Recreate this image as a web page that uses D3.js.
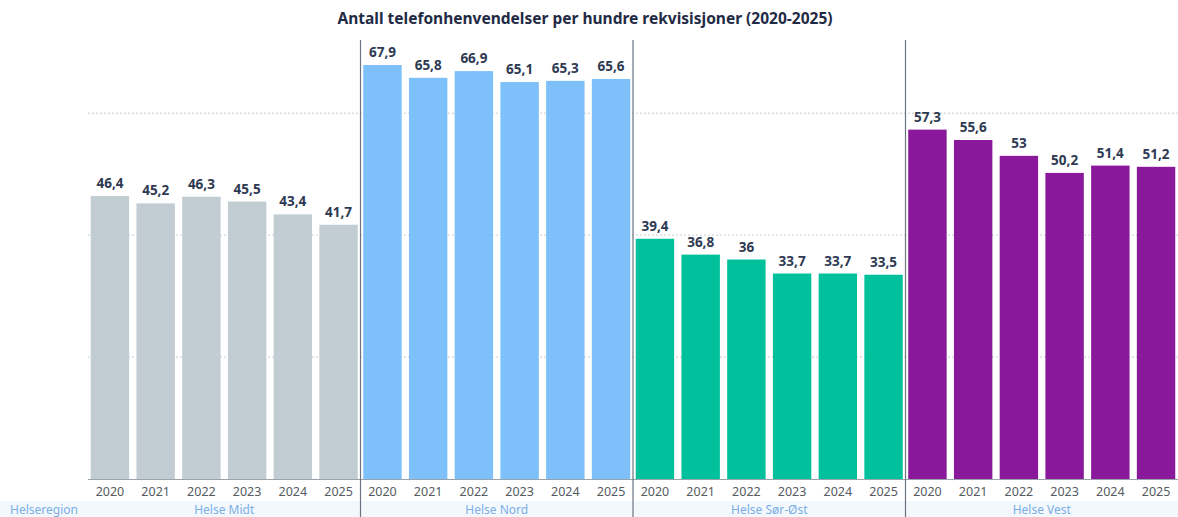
<!DOCTYPE html>
<html lang="no">
<head>
    <meta charset="UTF-8">
    <title>Antall telefonhenvendelser per hundre rekvisisjoner</title>
    <script src="https://d3js.org/d3.v7.min.js"></script>
    <style>
        body {
            margin: 0;
            padding: 0;
            background-color: #fff;
            font-family: "Noto Sans", "Open Sans", sans-serif;
        }
        .grid line {
            stroke: #c9cdd2;
            stroke-dasharray: 2, 2;
        }
        .value {
            font-weight: 700;
            font-size: 13.5px;
            fill: #2e3a52;
        }
        .year {
            font-size: 12.5px;
            fill: #555b63;
        }
        .region {
            font-size: 12px;
            fill: #7aaee6;
        }
    </style>
</head>
<body>
    <div id="chart"></div>

    <script>
        const regions = ["Helse Midt", "Helse Nord", "Helse Sør-Øst", "Helse Vest"];
        const years = ["2020", "2021", "2022", "2023", "2024", "2025"];
        const helseMidt = [46.4, 45.2, 46.3, 45.5, 43.4, 41.7];
        const helseNord = [67.9, 65.8, 66.9, 65.1, 65.3, 65.6];
        const helseSorOst = [39.4, 36.8, 36, 33.7, 33.7, 33.5];
        const helseVest = [57.3, 55.6, 53, 50.2, 51.4, 51.2];
        const gridValues = [20, 40, 60];
        const colors = ["#c1cdd3", "#7dc0fa", "#00c19c", "#89189b"];

        const seriesByRegion = [helseMidt, helseNord, helseSorOst, helseVest];
        const data = [];
        regions.forEach((r, i) => {
            years.forEach((yr, j) => {
                data.push({region: r, year: yr, value: seriesByRegion[i][j], color: colors[i]});
            });
        });

        const W = 1178, H = 517;
        const plot = {left: 88, right: 1178, top: 40, bottom: 479};

        const svg = d3.select("#chart").append("svg")
            .attr("width", W)
            .attr("height", H);

        const x0 = d3.scaleBand()
            .domain(regions)
            .range([plot.left, plot.right])
            .padding(0);

        const x1 = d3.scaleBand()
            .domain(years)
            .range([0, x0.bandwidth()])
            .paddingInner(0.16)
            .paddingOuter(0.06);

        const y = d3.scaleLinear()
            .domain([0, 72])
            .range([plot.bottom, plot.top]);

        // bottom strip for region labels
        svg.append("rect")
            .attr("x", 0)
            .attr("y", 501)
            .attr("width", W)
            .attr("height", H - 501)
            .attr("fill", "#f3f8fd");

        // dotted gridlines
        svg.append("g")
            .attr("class", "grid")
            .selectAll("line")
            .data(gridValues)
            .join("line")
            .attr("x1", plot.left)
            .attr("x2", plot.right)
            .attr("y1", d => y(d))
            .attr("y2", d => y(d));

        // bars
        svg.append("g")
            .selectAll("rect")
            .data(data)
            .join("rect")
            .attr("x", d => x0(d.region) + x1(d.year))
            .attr("y", d => y(d.value))
            .attr("width", x1.bandwidth())
            .attr("height", d => y(0) - y(d.value))
            .attr("fill", d => d.color);

        // value labels
        svg.append("g")
            .selectAll("text")
            .data(data)
            .join("text")
            .attr("class", "value")
            .attr("text-anchor", "middle")
            .attr("x", d => x0(d.region) + x1(d.year) + x1.bandwidth() / 2)
            .attr("y", d => y(d.value) - 8)
            .text(d => String(d.value).replace(".", ","));

        // baseline
        svg.append("line")
            .attr("x1", plot.left)
            .attr("x2", plot.right)
            .attr("y1", y(0) + 0.5)
            .attr("y2", y(0) + 0.5)
            .attr("stroke", "#9aa3ab")
            .attr("stroke-width", 1);

        // year labels
        svg.append("g")
            .selectAll("text")
            .data(data)
            .join("text")
            .attr("class", "year")
            .attr("text-anchor", "middle")
            .attr("x", d => x0(d.region) + x1(d.year) + x1.bandwidth() / 2)
            .attr("y", 496)
            .text(d => d.year);

        // region labels
        svg.append("g")
            .selectAll("text")
            .data(regions)
            .join("text")
            .attr("class", "region")
            .attr("text-anchor", "middle")
            .attr("x", d => x0(d) + x0.bandwidth() / 2)
            .attr("y", 514)
            .text(d => d);

        svg.append("text")
            .attr("class", "region")
            .attr("x", 10)
            .attr("y", 514)
            .text("Helseregion");

        // separators between regions
        svg.append("g")
            .selectAll("line")
            .data(regions.slice(1))
            .join("line")
            .attr("x1", d => x0(d))
            .attr("x2", d => x0(d))
            .attr("y1", plot.top)
            .attr("y2", H)
            .attr("stroke", "#6b7480")
            .attr("stroke-width", 1.2);

        // title
        svg.append("text")
            .attr("x", 585)
            .attr("y", 24)
            .attr("text-anchor", "middle")
            .attr("font-size", "15.5px")
            .attr("font-weight", 700)
            .attr("fill", "#1f2b45")
            .text("Antall telefonhenvendelser per hundre rekvisisjoner (2020-2025)");
    </script>
</body>
</html>
